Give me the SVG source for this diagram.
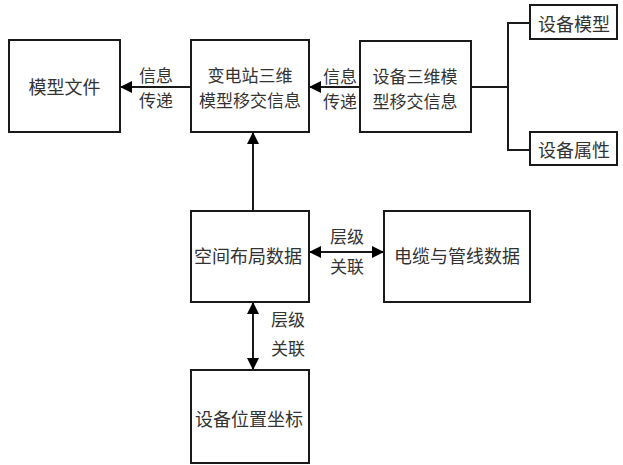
<svg xmlns="http://www.w3.org/2000/svg" width="623" height="465" viewBox="0 0 623 465">
<style>
.box{fill:#fff;stroke:#1a1a1a;stroke-width:2}
.t{font-family:"Noto Sans CJK SC","Noto Sans CJK JP",sans-serif;font-size:18px;fill:#333;text-anchor:middle;dominant-baseline:central}
.t2{font-family:"Noto Sans CJK SC","Noto Sans CJK JP",sans-serif;font-size:17px;fill:#333;text-anchor:middle;dominant-baseline:central}
.l{font-family:"Noto Sans CJK SC","Noto Sans CJK JP",sans-serif;font-size:17px;fill:#333;text-anchor:middle;dominant-baseline:central}
.c{fill:none;stroke:#1a1a1a;stroke-width:2}
</style>
<defs>
<marker id="ah" viewBox="0 0 12 12" refX="11" refY="6" markerWidth="12" markerHeight="12" markerUnits="userSpaceOnUse" orient="auto-start-reverse">
<path d="M0,0 L12,6 L0,12 Z" fill="#000"/>
</marker>
</defs>
<g id="connectors">
<line class="c" x1="191" y1="87" x2="121" y2="87" marker-end="url(#ah)"/>
<line class="c" x1="360" y1="87" x2="310" y2="87" marker-end="url(#ah)"/>
<line class="c" x1="253" y1="211" x2="253" y2="133" marker-end="url(#ah)"/>
<line class="c" x1="310" y1="252" x2="383" y2="252" marker-start="url(#ah)" marker-end="url(#ah)"/>
<line class="c" x1="253" y1="303" x2="253" y2="369" marker-start="url(#ah)" marker-end="url(#ah)"/>
<polyline class="c" points="471,87 508,87"/>
<polyline class="c" points="530,23 508,23 508,150 530,150"/>
<text class="l" x="156" y="74">信息</text>
<text class="l" x="156" y="99">传递</text>
<text class="l" x="340" y="75">信息</text>
<text class="l" x="340" y="100">传递</text>
<text class="l" x="347" y="235">层级</text>
<text class="l" x="347" y="265">关联</text>
<text class="l" x="288" y="318">层级</text>
<text class="l" x="288" y="347">关联</text>
</g>
<g id="n1"><rect class="box" x="9" y="40" width="111" height="92"/><text class="t" x="64.5" y="86">模型文件</text></g>
<g id="n2"><rect class="box" x="191" y="40" width="118" height="92"/><text class="t2" x="250" y="74">变电站三维</text><text class="t2" x="250" y="99">模型移交信息</text></g>
<g id="n3"><rect class="box" x="360" y="41" width="111" height="91"/><text class="t2" x="415" y="75">设备三维模</text><text class="t2" x="415" y="100">型移交信息</text></g>
<g id="n4"><rect class="box" x="530" y="5" width="87" height="34"/><text class="t" x="574" y="23">设备模型</text></g>
<g id="n5"><rect class="box" x="530" y="132" width="87" height="33"/><text class="t" x="574" y="149">设备属性</text></g>
<g id="n6"><rect class="box" x="191" y="211" width="118" height="91"/><text class="t" x="248" y="255">空间布局数据</text></g>
<g id="n7"><rect class="box" x="384" y="211" width="146" height="91"/><text class="t" x="457" y="255">电缆与管线数据</text></g>
<g id="n8"><rect class="box" x="191" y="370" width="118" height="93"/><text class="t" x="249" y="418">设备位置坐标</text></g>
</svg>
